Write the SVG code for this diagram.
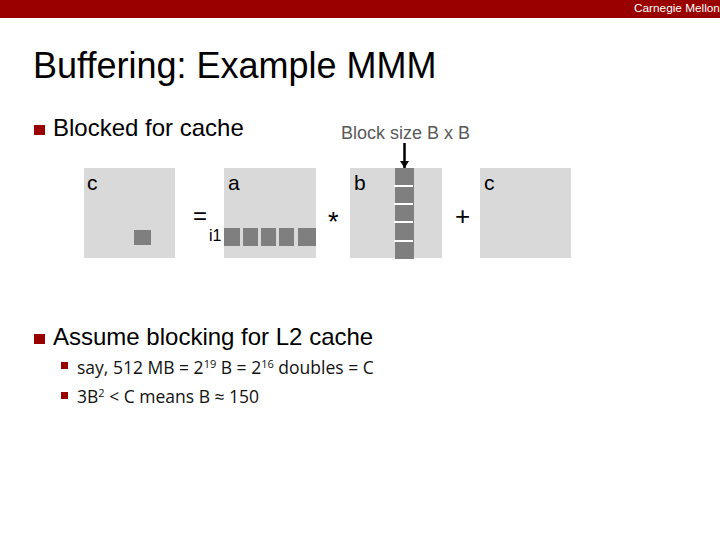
<svg xmlns="http://www.w3.org/2000/svg" width="720" height="540" viewBox="0 0 720 540">
<style>
text{font-family:"Liberation Sans",Arial,sans-serif;fill:#000}
.cal{font-family:"Open Sans","Noto Sans",sans-serif;font-size:17.500px;fill:#111}
.sup{font-size:11px}
.m{fill:#d9d9d9}
.d{fill:#7f7f7f}
.r{fill:#990000}
.l{font-size:21px}
.w{stroke:#fff;stroke-width:2}
</style>
<defs><marker id="ah" markerUnits="userSpaceOnUse" markerWidth="9" markerHeight="9" refX="7" refY="4.5" orient="auto"><path d="M0 0L7 4.5L0 9Z" fill="#000"/></marker></defs>
<rect class="r" x="0" y="0" width="720" height="18"/>
<text x="634" y="12" font-size="11.800" style="fill:#fff">Carnegie Mellon</text>
<text x="33" y="78" font-size="36">Buffering: Example MMM</text>
<rect class="r" x="34" y="125" width="11" height="10"/>
<text x="53" y="136" font-size="24">Blocked for cache</text>
<text x="341" y="139" font-size="18" style="fill:#595959">Block size B x B</text>
<g id="matrix-c1"><rect class="m" x="84" y="168" width="91" height="90"/><rect class="d" x="134" y="230" width="17" height="15"/><text class="l" x="87" y="190">c</text></g>
<text x="193" y="224" font-size="24">=</text>
<g id="matrix-a"><rect class="m" x="224" y="168" width="92" height="90"/><rect class="d" x="224" y="228" width="16" height="18"/><rect class="d" x="243" y="228" width="15" height="18"/><rect class="d" x="261" y="228" width="15" height="18"/><rect class="d" x="279" y="228" width="15" height="18"/><rect class="d" x="298" y="228" width="18" height="18"/><text class="l" x="228" y="190">a</text><text x="209" y="241" font-size="16">i1</text></g>
<text x="328" y="231" font-size="27">*</text>
<g id="matrix-b"><rect class="m" x="350" y="168" width="92" height="90"/><rect class="d" x="395" y="168" width="19" height="91"/><path class="w" d="M394 186H413M394 204H413M394 222H413M394 241H413"/><text class="l" x="354" y="190">b</text></g>
<text x="455" y="225" font-size="26">+</text>
<g id="matrix-c2"><rect class="m" x="480" y="168" width="91" height="90"/><text class="l" x="484" y="190">c</text></g>
<g id="connectors"><path d="M404.500 143V168" stroke="#000" stroke-width="2.500" fill="none" marker-end="url(#ah)"/></g>
<rect class="r" x="34" y="334" width="11" height="10"/>
<text x="53" y="345" font-size="24">Assume blocking for L2 cache</text>
<rect class="r" x="61" y="362" width="7" height="7"/>
<text class="cal" x="77" y="374">say, 512 MB = 2<tspan class="sup" dy="-6">19</tspan><tspan dy="6"> B = 2</tspan><tspan class="sup" dy="-6">16</tspan><tspan dy="6"> doubles = C</tspan></text>
<rect class="r" x="61" y="392" width="7" height="7"/>
<text class="cal" x="77" y="403">3B<tspan class="sup" dy="-6">2</tspan><tspan dy="6"> &lt; C means B ≈ 150</tspan></text>
</svg>
